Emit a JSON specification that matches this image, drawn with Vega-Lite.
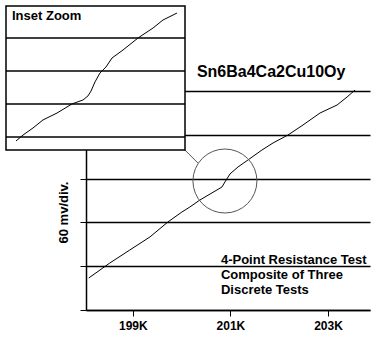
{
  "$schema": "https://vega.github.io/schema/vega-lite/v6.json",
  "width": 284,
  "height": 219,
  "autosize": {"type": "none"},
  "padding": {"left": 86, "top": 91, "right": 4, "bottom": 27},
  "background": "white",
  "config": {"view": {"stroke": null}, "font": "Liberation Sans"},
  "datasets": {
    "main": [
      {"K": 198.097, "mv": 0.731},
      {"K": 198.528, "mv": 1.073},
      {"K": 198.938, "mv": 1.370},
      {"K": 199.349, "mv": 1.667},
      {"K": 199.718, "mv": 2.009},
      {"K": 200.005, "mv": 2.237},
      {"K": 200.169, "mv": 2.352},
      {"K": 200.374, "mv": 2.511},
      {"K": 200.826, "mv": 2.808},
      {"K": 200.887, "mv": 2.922},
      {"K": 200.990, "mv": 3.105},
      {"K": 201.154, "mv": 3.265},
      {"K": 201.359, "mv": 3.425},
      {"K": 201.646, "mv": 3.653},
      {"K": 201.872, "mv": 3.813},
      {"K": 202.179, "mv": 3.995},
      {"K": 202.487, "mv": 4.224},
      {"K": 202.836, "mv": 4.498},
      {"K": 203.185, "mv": 4.680},
      {"K": 203.390, "mv": 4.863},
      {"K": 203.554, "mv": 5.023}
    ],
    "inset": [
      {"K": 200.278, "mv": 2.420},
      {"K": 200.333, "mv": 2.470},
      {"K": 200.411, "mv": 2.529},
      {"K": 200.489, "mv": 2.596},
      {"K": 200.599, "mv": 2.654},
      {"K": 200.716, "mv": 2.730},
      {"K": 200.802, "mv": 2.763},
      {"K": 200.841, "mv": 2.797},
      {"K": 200.865, "mv": 2.838},
      {"K": 200.896, "mv": 2.914},
      {"K": 200.935, "mv": 2.989},
      {"K": 200.982, "mv": 3.039},
      {"K": 201.029, "mv": 3.114},
      {"K": 201.115, "mv": 3.181},
      {"K": 201.232, "mv": 3.281},
      {"K": 201.350, "mv": 3.365},
      {"K": 201.428, "mv": 3.432},
      {"K": 201.537, "mv": 3.490}
    ],
    "insetGrid": [
      {"g": 2.454}, {"g": 2.730}, {"g": 3.006}, {"g": 3.281}
    ]
  },
  "layer": [
    {
      "layer": [
        {
          "data": {"name": "main"},
          "mark": {"type": "line", "color": "black", "strokeWidth": 1},
          "encoding": {
            "x": {
              "field": "K", "type": "quantitative",
              "scale": {"domain": [198.04, 203.86], "nice": false, "zero": false},
              "axis": {
                "values": [199, 201, 203], "labelExpr": "datum.value + 'K'", "title": null, "grid": false,
                "domainColor": "black", "domainWidth": 1.5, "tickColor": "black", "tickSize": 6, "tickWidth": 1,
                "labelFont": "Liberation Sans", "labelFontWeight": "bold", "labelFontSize": 12, "labelColor": "black", "labelPadding": 4
              }
            },
            "y": {
              "field": "mv", "type": "quantitative",
              "scale": {"domain": [0, 5], "nice": false, "zero": false},
              "axis": {
                "values": [0, 1, 2, 3, 4, 5], "labels": false, "grid": true, "gridColor": "black", "gridWidth": 1.5, "gridOpacity": 1,
                "domainColor": "black", "domainWidth": 1.5, "tickColor": "black", "tickSize": 6, "tickWidth": 1,
                "title": "60 mv/div.", "titleFont": "Liberation Sans", "titleFontSize": 13, "titleFontWeight": "bold", "titleColor": "black",
                "titleX": -23, "titleY": 121, "titleAngle": -90, "titleAlign": "center", "titleBaseline": "middle"
              }
            }
          }
        },
        {
          "data": {"values": [{"what": "zoom region"}]},
          "mark": {"type": "point", "shape": "circle", "filled": false, "size": 4096, "stroke": "#555555", "strokeWidth": 1, "opacity": 1},
          "encoding": {
            "x": {"datum": 200.887, "type": "quantitative"},
            "y": {"datum": 2.945, "type": "quantitative"}
          }
        },
        {
          "data": {"values": [{"what": "connector"}]},
          "mark": {"type": "rule", "stroke": "#555555", "strokeWidth": 1},
          "encoding": {
            "x": {"datum": 200.067, "type": "quantitative"},
            "y": {"datum": 3.653, "type": "quantitative"},
            "x2": {"datum": 200.333},
            "y2": {"datum": 3.356}
          }
        },
        {
          "data": {"values": [{"t": "Sn6Ba4Ca2Cu10Oy"}]},
          "mark": {"type": "text", "font": "Liberation Sans", "fontSize": 16, "fontWeight": "bold", "color": "black", "align": "left", "baseline": "alphabetic"},
          "encoding": {
            "text": {"field": "t"},
            "x": {"datum": 200.313, "type": "quantitative"},
            "y": {"datum": 5.32, "type": "quantitative"}
          }
        },
        {
          "data": {"values": [{"t": ["4-Point Resistance Test", "Composite of Three", "Discrete Tests"]}]},
          "mark": {"type": "text", "font": "Liberation Sans", "fontSize": 13, "fontWeight": "bold", "color": "black", "align": "left", "baseline": "alphabetic", "lineHeight": 15},
          "encoding": {
            "text": {"field": "t"},
            "x": {"datum": 200.805, "type": "quantitative"},
            "y": {"datum": 1.04, "type": "quantitative"}
          }
        }
      ]
    },
    {
      "layer": [
        {
          "data": {"values": [{"what": "inset frame"}]},
          "mark": {"type": "rect", "fill": "white", "stroke": "black", "strokeWidth": 1.5},
          "encoding": {
            "x": {"datum": 200.2, "type": "quantitative", "scale": {"domain": [200.2, 201.6], "range": [-80, 99], "nice": false, "zero": false}, "axis": null},
            "x2": {"datum": 201.6},
            "y": {"datum": 2.345, "type": "quantitative", "scale": {"domain": [2.345, 3.549], "range": [59, -85], "nice": false, "zero": false}, "axis": null},
            "y2": {"datum": 3.549}
          }
        },
        {
          "data": {"name": "insetGrid"},
          "mark": {"type": "rule", "stroke": "black", "strokeWidth": 1.5},
          "encoding": {
            "x": {"datum": 200.2, "type": "quantitative", "axis": null},
            "x2": {"datum": 201.6},
            "y": {"field": "g", "type": "quantitative", "axis": null}
          }
        },
        {
          "data": {"name": "inset"},
          "mark": {"type": "line", "color": "black", "strokeWidth": 1},
          "encoding": {
            "x": {"field": "K", "type": "quantitative", "axis": null},
            "y": {"field": "mv", "type": "quantitative", "axis": null}
          }
        },
        {
          "data": {"values": [{"t": "Inset Zoom"}]},
          "mark": {"type": "text", "font": "Liberation Sans", "fontSize": 13, "fontWeight": "bold", "color": "black", "align": "left", "baseline": "alphabetic"},
          "encoding": {
            "text": {"field": "t"},
            "x": {"datum": 200.247, "type": "quantitative", "axis": null},
            "y": {"datum": 3.432, "type": "quantitative", "axis": null}
          }
        }
      ]
    }
  ],
  "resolve": {"scale": {"x": "independent", "y": "independent"}}
}
